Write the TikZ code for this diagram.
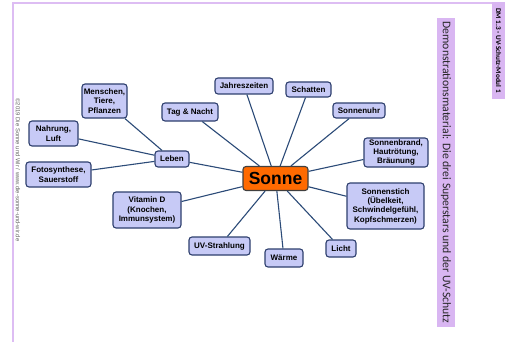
\documentclass[tikz,border=0pt]{standalone}
\usepackage{fontspec}
\setmainfont{Liberation Sans}
\newfontfamily\carlito{Carlito}
\definecolor{boxfill}{HTML}{C7CAF6}
\definecolor{boxline}{HTML}{2E3F6E}
\definecolor{linkcol}{HTML}{2C4B78}
\definecolor{sunfill}{HTML}{FF6A00}
\definecolor{lilac}{HTML}{DDBDF3}
\definecolor{barfill}{HTML}{D9B6F2}
\begin{document}
\begin{tikzpicture}[x=1pt,y=-1pt,
  topic/.style={draw=boxline, fill=boxfill, rounded corners=3pt, line width=1.1pt,
    font=\fontsize{8}{9.3}\selectfont\bfseries, align=center, inner sep=0pt, text=black},
  sun/.style={topic, fill=sunfill, draw=black!75, font=\fontsize{17.5}{18}\selectfont\bfseries},
  link/.style={draw=linkcol, line width=1.1pt}]
\useasboundingbox (0,0) rectangle (505,342);
\fill[white] (0,0) rectangle (505,342);

% page frame and side labels
\draw[lilac, line width=2pt] (13,342) -- (13,3) -- (492,3);
\node[fill=barfill, inner sep=0pt, minimum width=97pt, minimum height=13pt, rotate=-90,
  font=\carlito\bfseries\fontsize{7.2}{8}\selectfont] (dm) at (498.5,50.5) {DM 1.3 - UV-Schutz-Modul 1};
\node[fill=barfill, inner sep=0pt, minimum width=309pt, minimum height=18pt, rotate=-90,
  font=\carlito\fontsize{11.7}{12}\selectfont, text=black!85] (title) at (446,172.5)
  {Demonstrationsmaterial: Die drei Superstars und der UV-Schutz};
\node[rotate=-90, inner sep=0pt, font=\fontsize{5.9}{6}\selectfont, text=black!60] (copy) at (18,170)
  {©2019 Die Sonne und Wir / www.die-sonne-und-wir.de};

% topics
\node[sun, minimum width=65pt, minimum height=24pt] (sonne) at (275.5,178.5) {Sonne};
\node[topic, minimum width=58pt, minimum height=16pt] (jahr) at (244,86) {Jahreszeiten};
\node[topic, minimum width=45pt, minimum height=15pt] (schatten) at (308.5,89.5) {Schatten};
\node[topic, minimum width=56pt, minimum height=18pt] (tag) at (190,112) {Tag \& Nacht};
\node[topic, minimum width=52pt, minimum height=15pt] (uhr) at (359,110.5) {Sonnenuhr};
\node[topic, minimum width=64pt, minimum height=29pt] (brand) at (396,152.5) {Sonnenbrand,\\Hautrötung,\\Bräunung};
\node[topic, minimum width=77pt, minimum height=46pt] (stich) at (385.5,206) {Sonnenstich\\(Übelkeit,\\Schwindelgefühl,\\Kopfschmerzen)};
\node[topic, minimum width=30pt, minimum height=17pt] (licht) at (341,248.5) {Licht};
\node[topic, minimum width=38pt, minimum height=18pt] (waerme) at (284,258) {Wärme};
\node[topic, minimum width=61pt, minimum height=18pt] (uv) at (219.5,246) {UV-Strahlung};
\node[topic, minimum width=68pt, minimum height=36pt] (vitd) at (147,210) {Vitamin D\\(Knochen,\\Immunsystem)};
\node[topic, minimum width=34pt, minimum height=16pt] (leben) at (172,159) {Leben};
\node[topic, minimum width=65pt, minimum height=25pt] (foto) at (58.5,174.5) {Fotosynthese,\\Sauerstoff};
\node[topic, minimum width=49pt, minimum height=25pt] (nahrung) at (53.5,133.5) {Nahrung,\\Luft};
\node[topic, minimum width=45pt, minimum height=34pt] (menschen) at (104.5,101) {Menschen,\\Tiere,\\Pflanzen};

% connectors
\foreach \t in {jahr,schatten,tag,uhr,brand,stich,licht,waerme,uv,vitd,leben}
  \draw[link] (sonne) -- (\t);
\foreach \t in {foto,nahrung,menschen}
  \draw[link] (leben) -- (\t);
\end{tikzpicture}
\end{document}
